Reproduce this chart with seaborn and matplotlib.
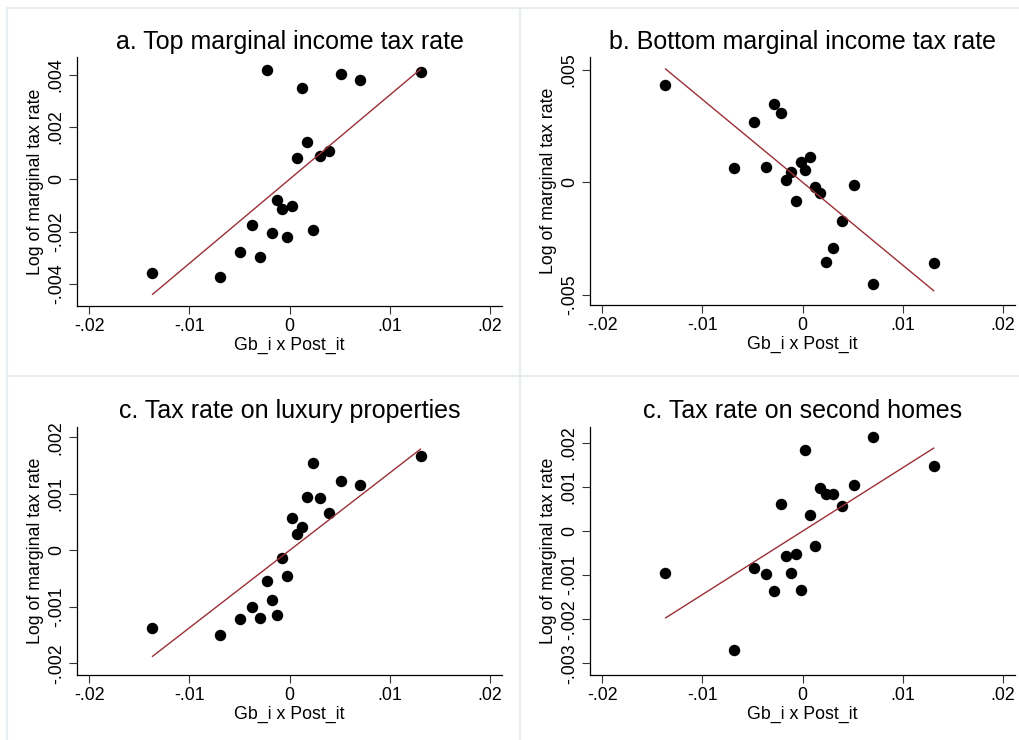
import matplotlib
matplotlib.use("Agg")
import matplotlib.pyplot as plt
from matplotlib.lines import Line2D
import seaborn as sns
import pandas as pd

# ---- data ----
gb_post = [-0.0137, -0.0069, -0.0049, -0.0037, -0.0029, -0.0022, -0.0017, -0.0012,
           -0.0007, -0.0002, 0.0002, 0.0007, 0.0012, 0.0017, 0.0023, 0.0030,
           0.0039, 0.0051, 0.0070, 0.0131]

top_rate = [-0.00360, -0.00375, -0.00278, -0.00174, -0.00296, 0.00419, -0.00205, -0.00078,
            -0.00112, -0.00221, -0.00102, 0.00083, 0.00351, 0.00142, -0.00194, 0.00091,
            0.00110, 0.00402, 0.00382, 0.00410]

bottom_rate = [0.00435, 0.00065, 0.00270, 0.00068, 0.00349, 0.00307, 0.00012, 0.00046,
               -0.00085, 0.00092, 0.00055, 0.00111, -0.00022, -0.00046, -0.00353, -0.00294,
               -0.00172, -0.00012, -0.00451, -0.00359]

luxury_rate = [-0.00137, -0.00150, -0.00122, -0.00101, -0.00120, -0.00055, -0.00088, -0.00114,
               -0.00014, -0.00046, 0.00057, 0.00029, 0.00042, 0.00094, 0.00155, 0.00093,
               0.00067, 0.00123, 0.00115, 0.00167]

second_home_rate = [-0.00095, -0.00270, -0.00083, -0.00098, -0.00135, 0.00062, -0.00057, -0.00095,
                    -0.00053, -0.00133, 0.00183, 0.00036, -0.00033, 0.00098, 0.00084, 0.00085,
                    0.00057, 0.00104, 0.00213, 0.00148]

# fitted-line coefficients (slope, intercept) as shown in each panel
fit_slopes = [0.322, -0.369, 0.137, 0.144]
fit_intercepts = [0.0, 0.0, 0.0, 0.0]

titles = ["a. Top marginal income tax rate", "b. Bottom marginal income tax rate",
          "c. Tax rate on luxury properties", "c. Tax rate on second homes"]

x_ticks = [-0.02, -0.01, 0.0, 0.01, 0.02]
x_ticklabels = ["-.02", "-.01", "0", ".01", ".02"]

y_ticks_a = [-0.004, -0.002, 0.0, 0.002, 0.004]
y_ticklabels_a = ["-.004", "-.002", "0", ".002", ".004"]
y_ticks_b = [-0.005, 0.0, 0.005]
y_ticklabels_b = ["-.005", "0", ".005"]
y_ticks_c = [-0.002, -0.001, 0.0, 0.001, 0.002]
y_ticklabels_c = ["-.002", "-.001", "0", ".001", ".002"]
y_ticks_d = [-0.003, -0.002, -0.001, 0.0, 0.001, 0.002]
y_ticklabels_d = ["-.003", "-.002", "-.001", "0", ".001", ".002"]

x_label = "Gb_i x Post_it"
y_label = "Log of marginal tax rate"

# ---- style ----
sns.set_theme(style="white")
plt.rcParams["font.family"] = ["Liberation Sans", "DejaVu Sans"]

W, H = 1019, 740
fig = plt.figure(figsize=(W / 100, H / 100), dpi=100)
fig.patch.set_facecolor("white")

# light panel borders
border_col = "#e8eff2"
for (x0, y0, x1, y1) in [(7, 8, 7, H), (7, 8, W, 8), (520, 8, 520, H), (7, 376, W, 376)]:
    fig.add_artist(Line2D([x0 / W, x1 / W], [1 - y0 / H, 1 - y1 / H],
                          transform=fig.transFigure, color=border_col, lw=1.6, zorder=0))

def px_axes(left, top, right, bottom):
    return fig.add_axes([left / W, 1 - bottom / H, (right - left) / W, (bottom - top) / H])

panels = [
    (px_axes(77.3, 57.3, 501.7, 305.7), top_rate, y_ticks_a, y_ticklabels_a, (-0.00484, 0.00467)),
    (px_axes(590.3, 57.3, 1015, 304.7), bottom_rate, y_ticks_b, y_ticklabels_b, (-0.00545, 0.00557)),
    (px_axes(77.3, 426.7, 501.7, 674.7), luxury_rate, y_ticks_c, y_ticklabels_c, (-0.0022, 0.00219)),
    (px_axes(590.3, 426.7, 1015, 674.7), second_home_rate, y_ticks_d, y_ticklabels_d, (-0.00326, 0.00237)),
]

line_col = "#9b2f36"

for i, ((ax, yvals, yt, ytl, ylim), title) in enumerate(zip(panels, titles)):
    df = pd.DataFrame({"x": gb_post, "y": yvals})
    sns.scatterplot(data=df, x="x", y="y", ax=ax, color="black", s=68,
                    edgecolor="black", linewidth=0, zorder=2)
    xr = [min(gb_post), max(gb_post)]
    fit = pd.DataFrame({"x": xr, "y": [fit_intercepts[i] + fit_slopes[i] * v for v in xr]})
    sns.lineplot(data=fit, x="x", y="y", ax=ax, color=line_col, lw=1.0, zorder=3)
    ax.set_facecolor("white")
    ax.set_xlim(-0.0212, 0.0212)
    ax.set_ylim(*ylim)
    ax.set_xticks(x_ticks)
    ax.set_xticklabels(x_ticklabels)
    ax.set_yticks(yt)
    ax.set_yticklabels(ytl, rotation=90, va="center")
    for s in ["top", "right"]:
        ax.spines[s].set_visible(False)
    for s in ["left", "bottom"]:
        ax.spines[s].set_visible(True)
        ax.spines[s].set_color("black")
        ax.spines[s].set_linewidth(0.9)
    ax.tick_params(axis="both", direction="out", length=5.5, width=0.8, color="#333333",
                   labelsize=12.8, pad=3.5, left=True, bottom=True, labelcolor="black")
    ax.set_xlabel(x_label, fontsize=12.8, labelpad=1.5, color="black")
    ax.set_ylabel(y_label, fontsize=12.8, labelpad=3, color="black")
    ax.set_title(title, fontsize=18, pad=6, color="black")
    ax.grid(False)

fig.savefig("out.png", dpi=100, facecolor="white")
